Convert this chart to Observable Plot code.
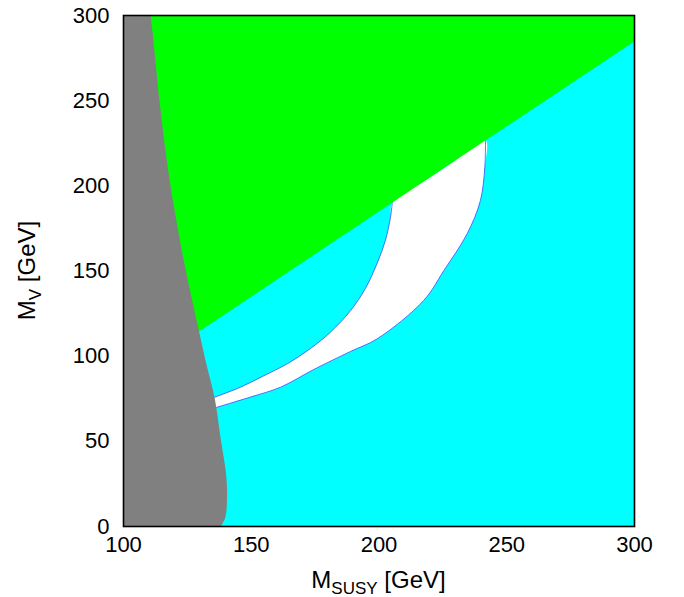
<!DOCTYPE html>
<html><head><meta charset="utf-8">
<script src="https://cdn.jsdelivr.net/npm/d3@7"></script>
<script src="https://cdn.jsdelivr.net/npm/@observablehq/plot@0.6"></script>
<style>body{margin:0;background:#fff} svg{display:block}</style>
</head><body><div id="chart"></div>
<script>
// tick labels
const xTicks = [100, 150, 200, 250, 300];
const yTicks = [0, 50, 100, 150, 200, 250, 300];

// excluded (gray) region: right boundary, top to bottom (extended past the frame, clipped)
const grayX = [108.5, 110.6, 114.1, 116.4, 118.1, 119.5, 123.6, 129.5, 132.5, 135.6, 138.2, 140.2, 140.5, 139.8, 138.2, 136.5, 80, 80];
const grayY = [320, 300, 250, 221, 203, 190, 156, 115, 95, 76, 50, 30, 15, 5, 0, -12, -12, 320];

// green region: above the line M_V ~ M_SUSY - 15
const greenX = [100, 300, 300, 100];
const greenY = [85, 285, 300, 300];

// white allowed band: upper-left edge (bottom to top)
const upperX = [132.9, 135.7, 145.8, 154.4, 164.1, 173.2, 181.0, 188.9, 194.7, 199.4, 202.5, 204.5, 205.2];
const upperY = [74.3, 75.9, 81.8, 88.1, 95.5, 104.5, 114.1, 126.8, 139.8, 155.0, 167.9, 181.6, 190.2];
// top edge along the green boundary
const topX = [217.4, 229.5];
const topY = [202.4, 214.5];
// lower-right edge (top to bottom)
const lowerX = [241.7, 241.4, 239.7, 234.5, 225.4, 217.5, 199.3, 188.9, 174.5, 161.5, 149.7, 143.2, 136.4, 132.9];
const lowerY = [226.7, 210.8, 191.4, 171.9, 150.3, 132.7, 110.2, 102.8, 92.2, 81.8, 76.0, 73.0, 69.9, 68.1];

const pts = (xs, ys) => xs.map((x, i) => ({x, y: ys[i]}));
const gray = pts(grayX, grayY);
const green = pts(greenX, greenY);
const upper = pts(upperX, upperY);
const lower = pts(lowerX, lowerY);
const band = upper.concat(pts(topX, topY), lower);

const plot = Plot.plot({
  width: 684,
  height: 597,
  marginLeft: 123,
  marginRight: 50,
  marginTop: 15,
  marginBottom: 71,
  style: {fontFamily: "'Liberation Sans', Arial, Helvetica, sans-serif", fontSize: "22px", background: "white", color: "black"},
  x: {domain: [100, 300], ticks: xTicks, tickSize: 0, tickPadding: 10, label: null},
  y: {domain: [0, 300], ticks: yTicks, tickSize: 0, tickPadding: 14, label: null},
  marks: [
    Plot.frame({fill: "#00ffff", stroke: null}),
    Plot.line(band, {x: "x", y: "y", fill: "white", stroke: null, curve: "catmull-rom", clip: true}),
    Plot.line(upper, {x: "x", y: "y", stroke: "#3a4cff", strokeWidth: 0.8, curve: "catmull-rom", clip: true}),
    Plot.line(lower, {x: "x", y: "y", stroke: "#3a4cff", strokeWidth: 0.8, curve: "catmull-rom", clip: true}),
    Plot.line(green, {x: "x", y: "y", fill: "#00ff00", stroke: null, clip: true}),
    Plot.line(gray, {x: "x", y: "y", fill: "#808080", stroke: null, curve: "catmull-rom", clip: true}),
    Plot.frame({stroke: "black", strokeWidth: 1.6})
  ]
});

const svg = d3.select(plot);
const xs = plot.scale("x"), ys = plot.scale("y");
const cx = (xs.apply(100) + xs.apply(300)) / 2;
const cy = (ys.apply(0) + ys.apply(300)) / 2;

const xl = svg.append("text")
  .attr("x", cx).attr("y", 588)
  .attr("text-anchor", "middle")
  .attr("font-size", 24).attr("fill", "black");
xl.append("tspan").text("M");
xl.append("tspan").attr("dy", 6).attr("font-size", 17).text("SUSY");
xl.append("tspan").attr("dy", -6).text(" [GeV]");

const yl = svg.append("text")
  .attr("transform", `translate(35,${cy}) rotate(-90)`)
  .attr("text-anchor", "middle")
  .attr("font-size", 24).attr("fill", "black");
yl.append("tspan").text("M");
yl.append("tspan").attr("dy", 6).attr("font-size", 17).text("V");
yl.append("tspan").attr("dy", -6).text(" [GeV]");

document.getElementById("chart").appendChild(plot);
</script>
</body></html>
